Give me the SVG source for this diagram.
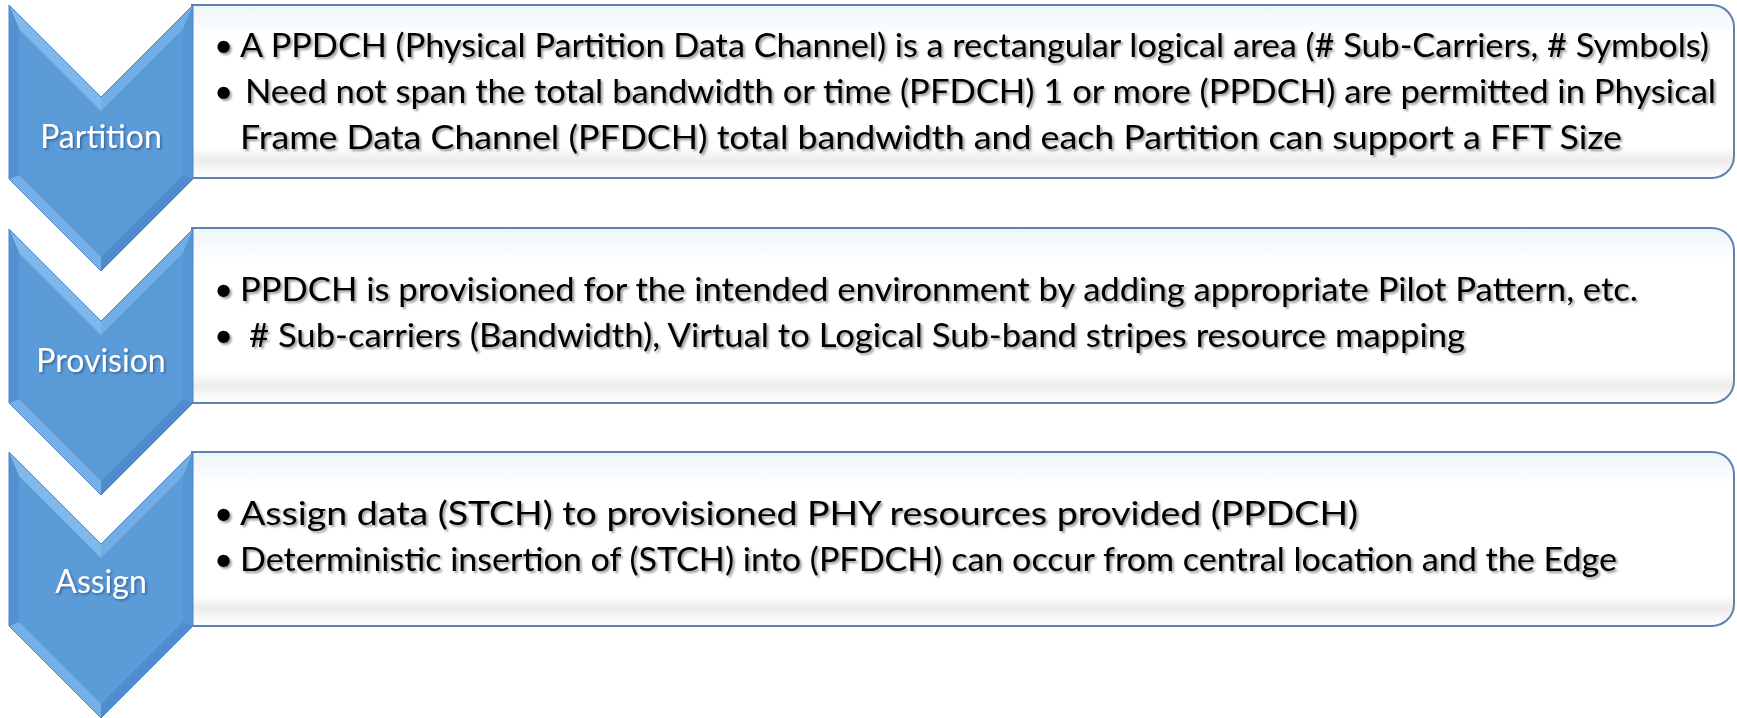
<svg xmlns="http://www.w3.org/2000/svg" width="1737" height="718" viewBox="0 0 1737 718">
  <style>
    .txt { font-family: Lato, "Liberation Sans", sans-serif; font-size: 33px; fill: #000; filter: url(#tshadow); }
    .lbl { font-family: Lato, "Liberation Sans", sans-serif; font-size: 32px; fill: #fff; text-anchor: middle; filter: url(#lshadow); }
    .box { fill: url(#boxfill); stroke: #5e82ad; stroke-width: 2; }
  </style>
  <defs>
    <filter id="tshadow" x="-5%" y="-30%" width="110%" height="160%">
      <feDropShadow dx="2" dy="2" stdDeviation="1.3" flood-color="#000" flood-opacity="0.4"/>
    </filter>
    <filter id="lshadow" x="-20%" y="-30%" width="140%" height="160%">
      <feDropShadow dx="1.5" dy="1.5" stdDeviation="1.2" flood-color="#1d3b66" flood-opacity="0.6"/>
    </filter>
    <linearGradient id="boxfill" x1="0" y1="0" x2="0" y2="1">
      <stop offset="0" stop-color="#eef4fa"/>
      <stop offset="0.18" stop-color="#ffffff"/>
      <stop offset="0.82" stop-color="#ffffff"/>
      <stop offset="0.9" stop-color="#ececec"/>
      <stop offset="0.96" stop-color="#f9f9f9"/>
      <stop offset="1" stop-color="#ffffff"/>
    </linearGradient>
    <g id="chev">
      <polygon points="9,0 101,92 193,0 193,174 101,266 9,174" fill="#5b9bd8"/>
      <polygon points="9,0 101,92 101,106 19,24" fill="#80b8ec"/>
      <polygon points="101,92 193,0 183,24 101,106" fill="#72ade6"/>
      <polygon points="193,0 193,174 183,170 183,24" fill="#5796d4"/>
      <polygon points="193,174 101,266 101,252 183,170" fill="#4f8ccb"/>
      <polygon points="101,266 9,174 19,170 101,252" fill="#76b0e8"/>
      <polygon points="9,174 9,0 19,24 19,170" fill="#5392d2"/>
      <polygon points="9,0 101,92 193,0 193,174 101,266 9,174" fill="none" stroke="#4a86c4" stroke-width="1"/>
    </g>
  </defs>

  <g id="node-partition">
    <path class="box" d="M192,5 H1712 A22,22 0 0 1 1734,27 V156 A22,22 0 0 1 1712,178 H192 Z"/>
    <use href="#chev" transform="translate(0,5)"/>
    <text class="lbl" x="101" y="148">Partition</text>
    <text class="txt" x="214" y="57">•</text>
    <text class="txt" x="240" y="57" textLength="1469" lengthAdjust="spacingAndGlyphs">A PPDCH (Physical Partition Data Channel) is a rectangular logical area (# Sub-Carriers, # Symbols)</text>
    <text class="txt" x="214" y="103">•</text>
    <text class="txt" x="245" y="103" textLength="1471" lengthAdjust="spacingAndGlyphs">Need not span the total bandwidth or time (PFDCH) 1 or more (PPDCH) are permitted in Physical</text>
    <text class="txt" x="240" y="149" textLength="1382" lengthAdjust="spacingAndGlyphs">Frame Data Channel (PFDCH) total bandwidth and each Partition can support a FFT Size</text>
  </g>

  <g id="node-provision">
    <path class="box" d="M192,228 H1712 A22,22 0 0 1 1734,250 V381 A22,22 0 0 1 1712,403 H192 Z"/>
    <use href="#chev" transform="translate(0,229)"/>
    <text class="lbl" x="101" y="372">Provision</text>
    <text class="txt" x="214" y="301">•</text>
    <text class="txt" x="240" y="301" textLength="1398" lengthAdjust="spacingAndGlyphs">PPDCH is provisioned for the intended environment by adding appropriate Pilot Pattern, etc.</text>
    <text class="txt" x="214" y="347">•</text>
    <text class="txt" x="249" y="347" textLength="1216" lengthAdjust="spacingAndGlyphs"># Sub-carriers (Bandwidth), Virtual to Logical Sub-band stripes resource mapping</text>
  </g>

  <g id="node-assign">
    <path class="box" d="M192,452 H1712 A22,22 0 0 1 1734,474 V604 A22,22 0 0 1 1712,626 H192 Z"/>
    <use href="#chev" transform="translate(0,452)"/>
    <text class="lbl" x="101" y="593">Assign</text>
    <text class="txt" x="214" y="525">•</text>
    <text class="txt" x="240" y="525" textLength="1118" lengthAdjust="spacingAndGlyphs">Assign data (STCH) to provisioned PHY resources provided (PPDCH)</text>
    <text class="txt" x="214" y="571">•</text>
    <text class="txt" x="240" y="571" textLength="1377" lengthAdjust="spacingAndGlyphs">Deterministic insertion of (STCH) into (PFDCH) can occur from central location and the Edge</text>
  </g>

  <g id="connectors"></g>
</svg>
